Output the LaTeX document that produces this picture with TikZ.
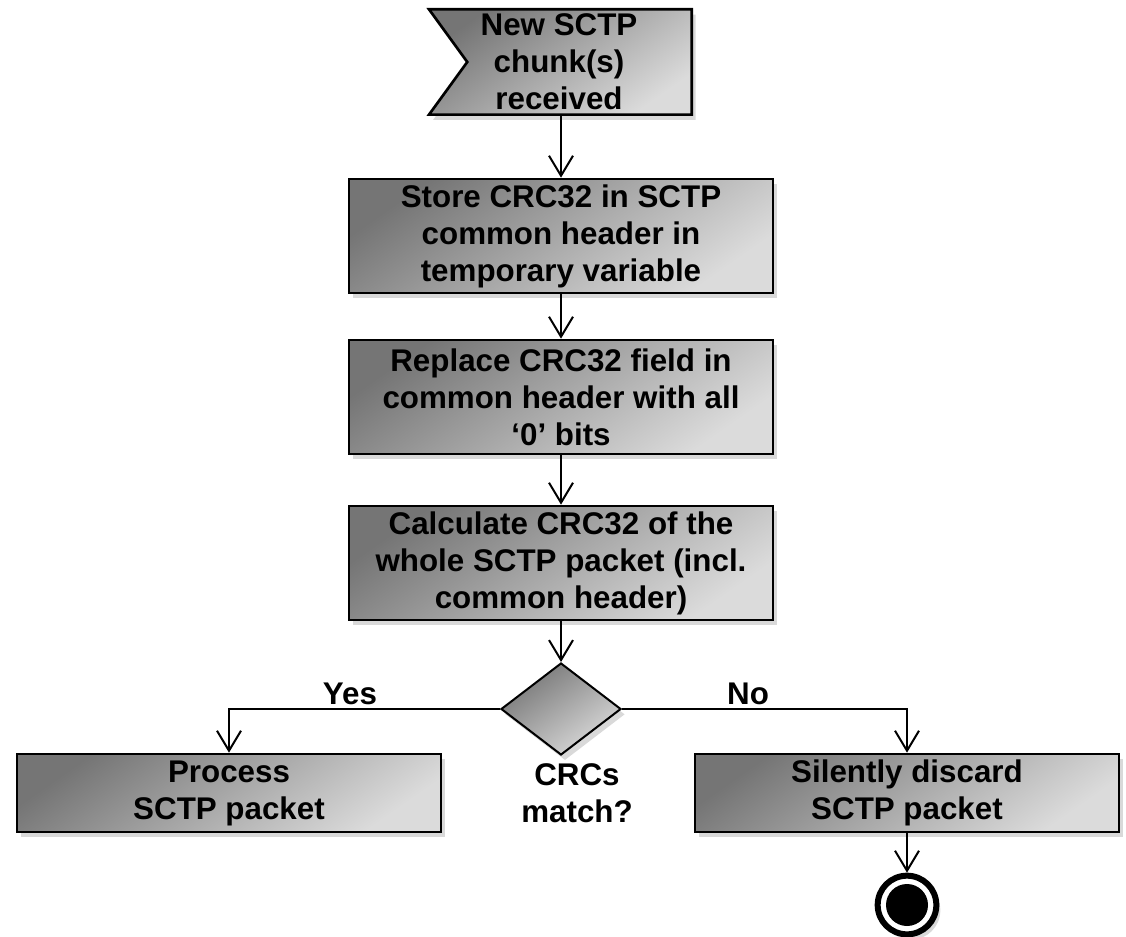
\documentclass[tikz,border=0pt]{standalone}
\usepackage{fontspec}
\setmainfont{Liberation Sans}
\usetikzlibrary{shapes.geometric,shapes.symbols,shadows,arrows.meta}
\tikzset{
  grad/.style={top color=black!54, bottom color=black!14, shading angle=35},
  shad/.style={drop shadow={shadow xshift=3pt, shadow yshift=-4pt, opacity=.3}},
  txt/.style={font=\fontsize{23.5}{27.75}\selectfont\bfseries, align=center, inner sep=0pt},
  act/.style={txt, rectangle, draw, line width=2pt, shad, grad, minimum width=318pt, minimum height=85.5pt},
  flow/.style={line width=1.5pt, -{Straight Barb[length=15pt, width=18pt, line join=miter]}}
}
\begin{document}
\begin{tikzpicture}[x=0.75pt, y=-0.75pt]
\useasboundingbox (0,0) rectangle (1126,937);
\def \cx {561}
\node[signal, signal from=west, signal to=nowhere, signal pointer angle=108, anchor=east,
  draw, line width=2pt, shad, grad, minimum width=197pt, minimum height=79pt, inner sep=0pt]
  (recv) at (693,62) {};
\node[txt] (recvtxt) at (559,62) {New SCTP\\chunk(s)\\received};
\node[act] (store) at (\cx,236) {Store CRC32 in SCTP\\common header in\\temporary variable};
\node[act] (repl) at (\cx,397) {Replace CRC32 field in\\common header with all\\‘0’ bits};
\node[act] (calc) at (\cx,563) {Calculate CRC32 of the\\whole SCTP packet (incl.\\common header)};
\node[diamond, draw, line width=1.5pt, shad, grad, minimum width=90pt, minimum height=69pt, inner sep=0pt]
  (match) at (\cx,709) {};
\node[txt] (matchlbl) at (577,793) {CRCs\\match?};
\node[act, minimum height=58.5pt] (proc) at (229,793) {Process\\SCTP packet};
\node[act, minimum height=58.5pt] (disc) at (907,793) {Silently discard\\SCTP packet};
\node[circle, draw, line width=4.5pt, fill=white, shad, minimum size=44pt, inner sep=0pt] (final) at (907,905) {};
\fill (final.center) circle[radius=15.75pt];
\node[txt] (yes) at (350,694) {Yes};
\node[txt] (no) at (748,694) {No};
\draw[flow] (store |- recv.south) -- (store.north);
\draw[flow] (store) -- (repl);
\draw[flow] (repl) -- (calc);
\draw[flow] (calc) -- (match);
\draw[flow] (match.west) -| (proc.north);
\draw[flow] (match.east) -| (disc.north);
\draw[flow] (disc) -- (final);
\end{tikzpicture}
\end{document}
